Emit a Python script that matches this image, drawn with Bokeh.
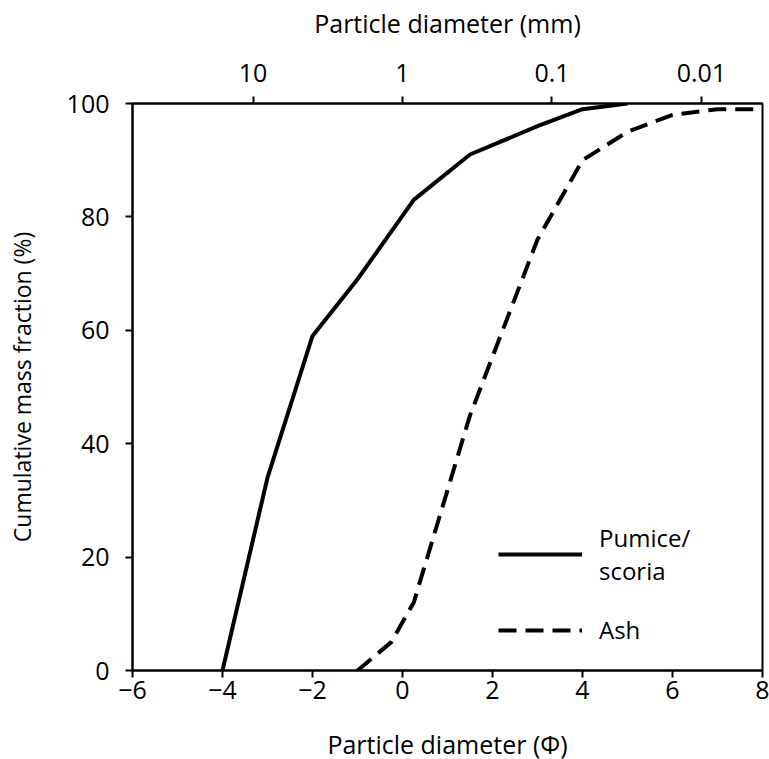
from bokeh.plotting import figure
from bokeh.models import (Range1d, LogScale, LogAxis, FixedTicker, Legend, LegendItem)
from bokeh.embed import file_html
from bokeh.resources import INLINE

# Data (phi scale)
pumice_phi = [-4, -3, -2, -1, 0.25, 1.5, 3, 4, 5]
pumice_cum = [0, 34, 59, 69, 83, 91, 96, 99, 100]

ash_phi = [-1, -0.25, 0.25, 1.5, 3, 4, 5, 6, 7, 8]
ash_cum = [0, 5, 12, 45, 76, 90, 95, 98, 99, 99]

x_ticks = [-6, -4, -2, 0, 2, 4, 6, 8]
y_ticks = [0, 20, 40, 60, 80, 100]
mm_ticks = [10, 1, 0.1, 0.01]
mm_labels = ["10", "1", "0.1", "0.01"]

FONT = "Open Sans"
FS = "25px"

p = figure(frame_width=630, frame_height=567,
           x_range=Range1d(-6, 8), y_range=Range1d(0, 100),
           output_backend="svg", toolbar_location=None,
           min_border_left=132, min_border_right=7,
           min_border_top=103, min_border_bottom=89)
p.xgrid.visible = False
p.ygrid.visible = False
p.outline_line_color = "black"
p.outline_line_width = 2
p.outline_line_alpha = 1

bottom = p.below[0]
left = p.left[0]

p.extra_x_ranges = {"mm": Range1d(start=2 ** 6, end=2 ** -8)}
p.extra_x_scales = {"mm": LogScale()}
top = LogAxis(x_range_name="mm", ticker=FixedTicker(ticks=mm_ticks),
              major_label_overrides={v: s for v, s in zip(mm_ticks, mm_labels)},
              axis_label="Particle diameter (mm)")
p.add_layout(top, "above")

for ax in [bottom, left, top]:
    ax.axis_line_color = "black"
    ax.axis_line_width = 2
    ax.major_tick_line_color = "black"
    ax.major_tick_line_width = 2
    ax.major_tick_in = 0
    ax.major_tick_out = 7
    ax.minor_tick_line_color = None
    ax.major_label_text_font = FONT
    ax.major_label_text_font_size = FS
    ax.major_label_text_color = "black"
    ax.axis_label_text_font = FONT
    ax.axis_label_text_font_size = FS
    ax.axis_label_text_font_style = "normal"
    ax.axis_label_text_color = "black"

left.axis_label_text_font_size = "23px"
bottom.ticker = FixedTicker(ticks=x_ticks)
left.ticker = FixedTicker(ticks=y_ticks)
bottom.axis_label = "Particle diameter (Φ)"
left.axis_label = "Cumulative mass fraction (%)"
bottom.major_label_standoff = 3
bottom.axis_label_standoff = 25
left.major_label_standoff = 16
left.axis_label_standoff = 26
top.major_label_standoff = 15
top.axis_label_standoff = 21

r1 = p.line(pumice_phi, pumice_cum, line_color="black", line_width=4)
r2 = p.line(ash_phi, ash_cum, line_color="black", line_width=4, line_dash="18 9")

legend = Legend(items=[LegendItem(label="Pumice/\nscoria", renderers=[r1]),
                       LegendItem(label="Ash", renderers=[r2])],
                location=(366, 24), glyph_width=84, glyph_height=20,
                label_standoff=17, spacing=26, padding=0, margin=0,
                border_line_alpha=0, background_fill_alpha=0,
                label_text_font=FONT, label_text_font_size="24px",
                label_text_color="black")
p.add_layout(legend, "center")

open("out.html", "w").write(file_html(p, INLINE))
